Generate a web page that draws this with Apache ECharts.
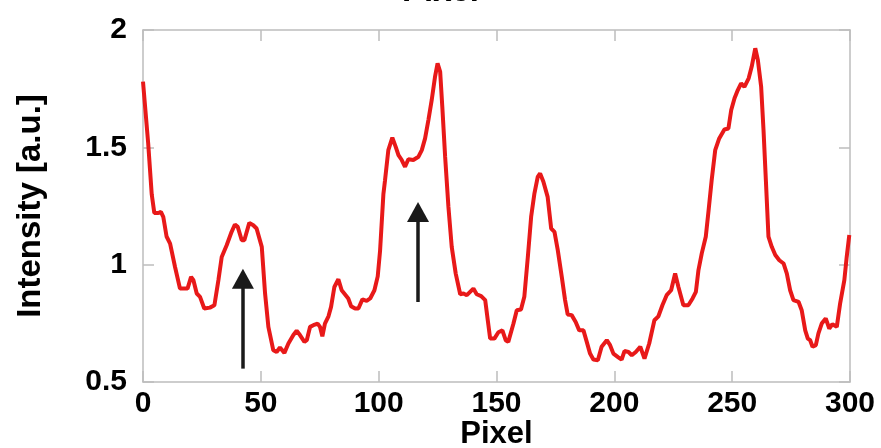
<!DOCTYPE html>
<html>
<head>
<meta charset="utf-8">
<script src="https://cdn.jsdelivr.net/npm/echarts@6/dist/echarts.min.js"></script>
<style>
  html, body { margin: 0; padding: 0; background: #fff; }
  #line { width: 881px; height: 448px; }
</style>
</head>
<body>
<div id="line"></div>
<script>
  // pixel position along the profile and measured intensity
  var pixelPos = [
    0, 2.2, 3.7, 4.8, 6.5, 7.6, 8.6, 10, 11.5, 13.6, 15.7, 18.9, 20.4, 21.4, 22.8, 24.2, 26, 28.4, 30.3, 32,
    33.4, 35.5, 37.6, 39, 40.2, 41.9, 43, 45.1, 46.8, 48.2, 49, 50.4, 51.8, 53.2, 55.3, 56.7, 58.1, 60, 61.7, 63.8,
    65.2, 66.6, 68.5, 69.5, 70.9, 72.3, 74.1, 75.1, 76.1, 77.2, 78.7, 79.8, 81.2, 82.9, 84.3, 86, 87.1, 88.3, 90, 91.4,
    93.1, 94.9, 96.4, 98.2, 99.6, 100.6, 102, 102.7, 104.1, 105.8, 107.2, 108.4, 109.8, 111.2, 112.6, 114.7, 116.9, 118.3, 119.7, 121.1,
    122.5, 123.9, 125, 126.1, 127, 128.2, 129.6, 131, 132.7, 134.6, 136, 137.4, 138.8, 140.2, 141.6, 143.5, 145.2, 146.3, 147.3, 149.1,
    150.8, 152.5, 153.9, 155, 157.2, 158.6, 160.4, 161.8, 163.3, 164.7, 166.1, 167.5, 168.5, 169.9, 171.7, 173.2, 174.6, 176, 177.7, 179.1,
    180.2, 181.9, 183.6, 185.1, 186.9, 188.3, 189.7, 191.1, 193, 194.6, 196.8, 198.2, 199.6, 201.7, 203.1, 204.3, 206, 207.4, 209.1, 211,
    212.8, 214.8, 217, 218.7, 220.4, 222.2, 224.1, 225.8, 227.2, 229.3, 231.4, 233.2, 234.6, 235.7, 237.1, 238.8, 240, 241.3, 242.8, 244.5,
    246.7, 248.4, 249.6, 251, 252.4, 253.8, 255.2, 257, 258.3, 259.8, 260.9, 262.3, 263.3, 264.3, 265.4, 266.8, 268.3, 270, 271.8, 273.2,
    274.6, 276, 278.2, 279.5, 281, 282.1, 283.1, 284.1, 285.5, 286.6, 288, 289.7, 291.2, 292.5, 294.4, 295.8, 297.6, 298.6, 299.7
  ];
  var intensity = [
    1.78, 1.517, 1.30, 1.22, 1.22, 1.225, 1.204, 1.12, 1.09, 0.99, 0.898, 0.898, 0.948, 0.934, 0.877, 0.863, 0.813, 0.817, 0.827, 0.934,
    1.033, 1.083, 1.14, 1.171, 1.161, 1.104, 1.104, 1.178, 1.168, 1.154, 1.15, 1.076, 0.877, 0.735, 0.635, 0.628, 0.647, 0.624, 0.664, 0.70,
    0.718, 0.70, 0.671, 0.678, 0.735, 0.742, 0.749, 0.735, 0.695, 0.749, 0.78, 0.82, 0.905, 0.938, 0.891, 0.87, 0.856, 0.823, 0.813, 0.813,
    0.852, 0.846, 0.856, 0.891, 0.95, 1.06, 1.30, 1.36, 1.488, 1.541, 1.503, 1.467, 1.446, 1.417, 1.449, 1.446, 1.46, 1.488, 1.538, 1.616,
    1.701, 1.80, 1.858, 1.822, 1.673, 1.46, 1.246, 1.076, 0.962, 0.874, 0.877, 0.87, 0.884, 0.898, 0.874, 0.866, 0.849, 0.763, 0.685, 0.685,
    0.712, 0.72, 0.678, 0.671, 0.749, 0.806, 0.809, 0.863, 1.033, 1.204, 1.304, 1.374, 1.389, 1.353, 1.289, 1.154, 1.14, 1.062, 0.948, 0.849,
    0.788, 0.785, 0.756, 0.72, 0.72, 0.671, 0.621, 0.596, 0.593, 0.65, 0.678, 0.657, 0.621, 0.605, 0.595, 0.632, 0.628, 0.614, 0.628, 0.65,
    0.60, 0.664, 0.763, 0.78, 0.827, 0.87, 0.891, 0.962, 0.905, 0.827, 0.827, 0.856, 0.884, 0.977, 1.048, 1.119, 1.232, 1.36, 1.488, 1.538,
    1.576, 1.58, 1.659, 1.709, 1.744, 1.773, 1.758, 1.794, 1.844, 1.922, 1.872, 1.758, 1.574, 1.36, 1.119, 1.076, 1.041, 1.019, 1.005, 0.962,
    0.891, 0.849, 0.841, 0.806, 0.72, 0.685, 0.678, 0.65, 0.657, 0.707, 0.749, 0.771, 0.728, 0.746, 0.735, 0.834, 0.934, 1.033, 1.126
  ];
  // arrows: x position, tail value, value at the middle of the arrow head
  var arrowX = [42.4, 116.7];
  var arrowFrom = [0.557, 0.841];
  var arrowHead = [0.94, 1.224];

  var xTicks = [0, 300, 50];   // min, max, interval
  var yTicks = [0.5, 2, 0.5];

  var fontFamily = "'Liberation Sans', Arial, sans-serif";
  var boxColor = '#bdbdbd';

  var myChart = echarts.init(document.getElementById('line'));

  var seriesData = pixelPos.map(function (p, i) { return [p, intensity[i]]; });
  var arrowLines = arrowX.map(function (x, i) {
    return [{coord: [x, arrowFrom[i]]}, {coord: [x, arrowHead[i]]}];
  });

  function sideAxis(pos, ticks, showLabel) {
    return {
      type: 'value',
      position: pos,
      min: ticks[0],
      max: ticks[1],
      interval: ticks[2],
      axisLine: {show: true, onZero: false, lineStyle: {color: boxColor, width: 1.5}},
      axisTick: {show: true, inside: true, length: 11, lineStyle: {color: boxColor, width: 1.5}},
      splitLine: {show: false},
      axisLabel: {show: showLabel}
    };
  }

  var xBottom = sideAxis('bottom', xTicks, true);
  xBottom.name = 'Pixel';
  xBottom.nameLocation = 'middle';
  xBottom.nameGap = 37;
  xBottom.nameMoveOverlap = false;
  xBottom.nameTextStyle = {fontFamily: fontFamily, fontWeight: 'bold', fontSize: 31, color: '#000'};
  xBottom.axisLabel = {show: true, margin: 7, fontFamily: fontFamily, fontWeight: 'bold', fontSize: 30, color: '#000'};

  var yLeft = sideAxis('left', yTicks, true);
  yLeft.name = 'Intensity [a.u.]';
  yLeft.nameLocation = 'middle';
  yLeft.nameGap = 96;
  yLeft.nameMoveOverlap = false;
  yLeft.nameTextStyle = {fontFamily: fontFamily, fontWeight: 'bold', fontSize: 33, color: '#000'};
  yLeft.axisLabel = {show: true, margin: 16, fontFamily: fontFamily, fontWeight: 'bold', fontSize: 30, color: '#000'};

  var option = {
    backgroundColor: '#fff',
    animation: false,
    title: {
      text: 'Pixel',
      left: 'center',
      top: -30,
      textStyle: {fontFamily: fontFamily, fontWeight: 'bold', fontSize: 33, color: '#000'}
    },
    grid: {left: 143, right: 31, top: 30, bottom: 66, outerBoundsMode: 'none'},
    xAxis: [xBottom, sideAxis('top', xTicks, false)],
    yAxis: [yLeft, sideAxis('right', yTicks, false)],
    series: [{
      type: 'line',
      data: seriesData,
      showSymbol: false,
      lineStyle: {color: '#e81919', width: 4},
      markLine: {
        silent: true,
        symbol: ['none', 'triangle'],
        symbolSize: [22, 20],
        label: {show: false},
        lineStyle: {color: '#1a1a1a', width: 3.5, type: 'solid'},
        data: arrowLines
      }
    }]
  };
  myChart.setOption(option);
</script>
</body>
</html>
